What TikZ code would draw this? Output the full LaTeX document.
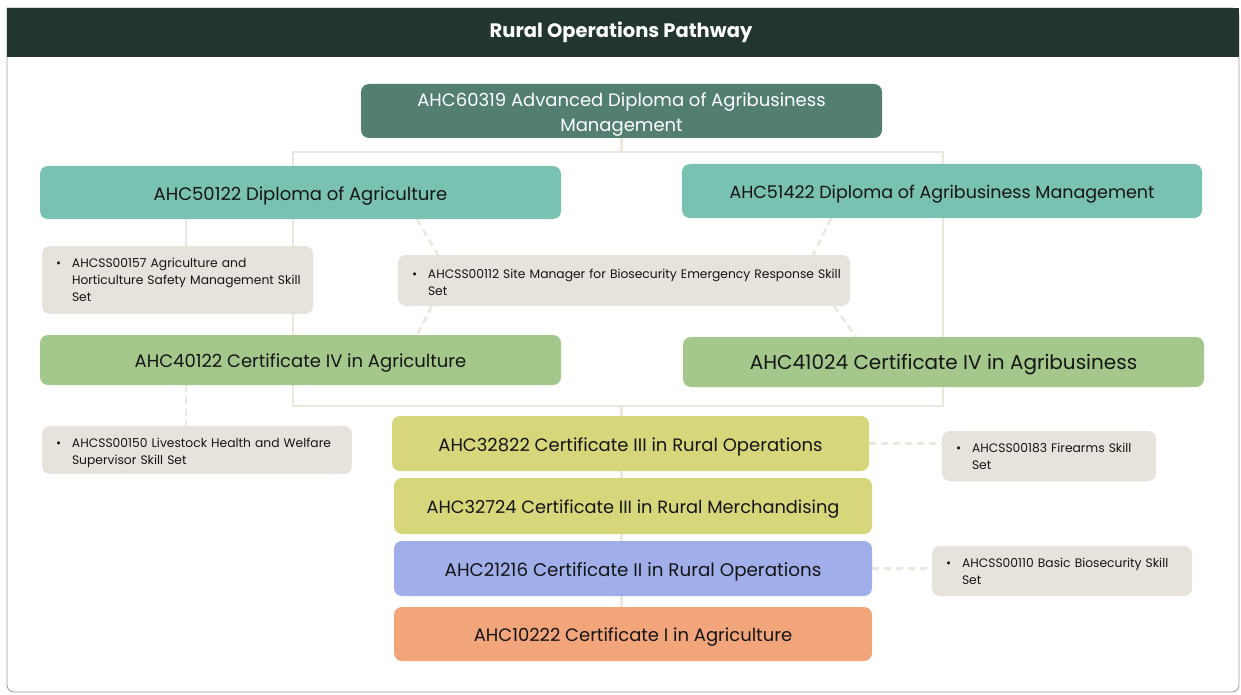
\documentclass[tikz,border=0pt]{standalone}
\usepackage{fontspec}
\setmainfont{Poppins}
\usetikzlibrary{backgrounds}
\definecolor{titlec}{HTML}{22352F}
\definecolor{advc}{HTML}{527F72}
\definecolor{dipc}{HTML}{79C1B0}
\definecolor{cfourc}{HTML}{A4C78C}
\definecolor{cthreec}{HTML}{D6D67B}
\definecolor{ctwoc}{HTML}{A0AEEA}
\definecolor{conec}{HTML}{F2A57B}
\definecolor{skillc}{HTML}{E7E3DC}
\definecolor{connc}{HTML}{EBE7DD}
\definecolor{framec}{HTML}{9A9A9A}
\definecolor{inkc}{HTML}{151515}
\begin{document}
\begin{tikzpicture}[x=1pt,y=-1pt,
  qual/.style={rounded corners=8pt, inner sep=0pt, text=inkc, align=center},
  skill/.style={rounded corners=8pt, fill=skillc, inner xsep=0pt, inner ysep=0pt, text=inkc, align=left,
     font=\fontsize{12.3}{17}\selectfont},
  conn/.style={draw=connc, line width=2.6pt},
  dconn/.style={draw=connc, line width=2.6pt, dash pattern=on 7pt off 5pt},
  bigtext/.style={font=\fontsize{18}{25}\selectfont}]
\useasboundingbox (0,0) rectangle (1241,695);
\newcommand{\bul}{\hspace*{14pt}\makebox[16pt][l]{\textbullet}}
\newcommand{\ind}{\hspace*{30pt}}
\newcommand{\st}{\rule{0pt}{20pt}}

\node[text=white, font=\bfseries\fontsize{19.5}{22}\selectfont] (title) at (621,32) {\rule{0pt}{16pt}Rural Operations Pathway};

% qualifications
\node[qual, fill=advc, text=white, minimum width=521pt, minimum height=54pt, bigtext] (adv) at (621.5,111)
  {\rule{0pt}{21pt}AHC60319 Advanced Diploma of Agribusiness\\Management};
\node[qual, fill=dipc, minimum width=521pt, minimum height=53pt, bigtext] (d1) at (300.5,192.5)
  {\st AHC50122 Diploma of Agriculture};
\node[qual, fill=dipc, minimum width=520pt, minimum height=54pt, font=\fontsize{17.5}{25}\selectfont] (d2) at (942,191)
  {\st AHC51422 Diploma of Agribusiness Management};
\node[qual, fill=cfourc, minimum width=521pt, minimum height=50pt, bigtext] (c4a) at (300.5,360)
  {\st AHC40122 Certificate IV in Agriculture};
\node[qual, fill=cfourc, minimum width=521pt, minimum height=50pt, font=\fontsize{20}{22}\selectfont] (c4b) at (943.5,362)
  {\rule{0pt}{21pt}AHC41024 Certificate IV in Agribusiness};
\node[qual, fill=cthreec, minimum width=477pt, minimum height=55pt, bigtext] (c3a) at (630.5,443.5)
  {\st AHC32822 Certificate III in Rural Operations};
\node[qual, fill=cthreec, minimum width=478pt, minimum height=56pt, font=\fontsize{17.8}{25}\selectfont] (c3b) at (633,506)
  {\st AHC32724 Certificate III in Rural Merchandising};
\node[qual, fill=ctwoc, minimum width=478pt, minimum height=55pt, font=\fontsize{18.3}{25}\selectfont] (c2) at (633,568.5)
  {\st AHC21216 Certificate II in Rural Operations};
\node[qual, fill=conec, minimum width=478pt, minimum height=54pt, bigtext] (c1) at (633,634)
  {\st AHC10222 Certificate I in Agriculture};

% skill sets
\node[skill, minimum width=271pt, minimum height=68pt, text width=271pt] (ss1) at (177.5,280)
  {\bul AHCSS00157 Agriculture and\\\ind Horticulture Safety Management Skill\\\ind Set};
\node[skill, minimum width=452pt, minimum height=51pt, text width=452pt] (ss2) at (624,280.5)
  {\rule{0pt}{13pt}\bul AHCSS00112 Site Manager for Biosecurity Emergency Response Skill\\\ind Set};
\node[skill, minimum width=310pt, minimum height=48pt, text width=310pt] (ss3) at (197,450)
  {\rule{0pt}{15pt}\bul AHCSS00150 Livestock Health and Welfare\\\ind Supervisor Skill Set};
\node[skill, minimum width=214pt, minimum height=50pt, text width=214pt] (ss4) at (1049,456)
  {\bul AHCSS00183 Firearms Skill\\\ind Set};
\node[skill, minimum width=260pt, minimum height=50pt, text width=260pt] (ss5) at (1062,571)
  {\bul AHCSS00110 Basic Biosecurity Skill\\\ind Set};

% frame and connectors behind the boxes
\begin{scope}[on background layer]
\draw[framec, line width=0.8pt, fill=white] (7,8) [rounded corners=7pt] -- (7,692) -- (1239,692) -- (1239,8) [sharp corners] -- cycle;
\fill[titlec] (7,8) rectangle (1239,57);
\coordinate (brTL) at (293,152);
\coordinate (brBR) at (943,406);
\coordinate (p1) at ([xshift=8.5pt]ss1.north);
\coordinate (p2) at ([xshift=-11pt]ss3.north);
\draw[conn] (adv.south) -- (adv.south |- brTL);
\draw[conn] (brTL) rectangle (brBR);
\draw[conn] (adv.south |- brBR) -- (adv.south |- c1.north);
\draw[conn] (p1 |- d1.south) -- (p1);
\draw[dconn] (p2 |- c4a.south) -- (p2);
\draw[dconn] ([xshift=116.5pt]d1.south) -- ([xshift=40pt]ss2.north west);
\draw[dconn] ([xshift=34pt]ss2.south west) -- ([xshift=116.5pt]c4a.north);
\draw[dconn] ([xshift=-111pt]d2.south) -- ([xshift=-37pt]ss2.north east);
\draw[dconn] ([xshift=-16pt]ss2.south east) -- ([xshift=-87.5pt]c4b.north);
\draw[dconn] (c3a.east) -- (c3a.east -| ss4.west);
\draw[dconn] (c2.east) -- (c2.east -| ss5.west);
\end{scope}
\end{tikzpicture}
\end{document}
